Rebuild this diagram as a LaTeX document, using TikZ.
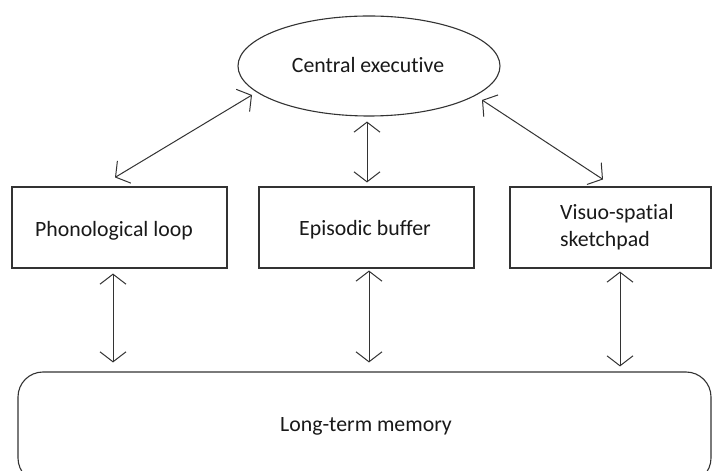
\documentclass[tikz,border=0pt]{standalone}
\usepackage{fontspec}
\setmainfont{Carlito}[Ligatures=NoCommon]
\usetikzlibrary{arrows.meta,shapes.geometric,calc}
\begin{document}
\begin{tikzpicture}[x=1pt,y=1pt,
  outline/.style={draw=black!80, line width=1.1pt},
  box/.style={outline, rectangle, minimum height=81pt, inner sep=0pt},
  lbl/.style={font=\fontsize{21.8}{27}\selectfont, text=black!90, inner sep=0pt},
  barb/.tip={Straight Barb[length=10pt,width=26pt]},
  link/.style={draw=black!80, line width=1pt, barb-barb},
]
\useasboundingbox (0,0) rectangle (712,471);
\fill[white] (0,0) rectangle (712,471);
\clip (0,0) rectangle (712,471);

% components of working memory
\node[outline, ellipse, minimum width=262pt, minimum height=100pt, inner sep=0pt] (ce) at (369,405) {};
\node[box, minimum width=215pt] (pl) at (119.5,243.5) {};
\node[box, minimum width=215pt] (eb) at (366.5,243.5) {};
\node[box, minimum width=201pt] (vs) at (610.5,243.5) {};
\node[outline, rectangle, rounded corners=25pt, minimum width=693pt, minimum height=111pt, inner sep=0pt] (ltm) at (364.5,43.5) {};

% labels
\node[lbl, anchor=base] (cet) at ($(ce.center)+(-1,-7)$) {Central executive};
\node[lbl, anchor=base] (plt) at ($(pl.center)+(-5.5,-9.5)$) {Phonological loop};
\node[lbl, anchor=base] (ebt) at ($(eb.center)+(-1.5,-8.5)$) {Episodic buffer};
\node[lbl, anchor=base west, align=left] (vst) at ($(vs.center)+(-50.5,-19.5)$) {Visuo-spatial\\sketchpad};
\node[lbl, anchor=base] (ltmt) at ($(ltm.north)+(1.5,-60)$) {Long-term memory};

% links to the central executive
\draw[link] ($(pl.north)+(-4.5,9)$) -- ($(ce.center)+(-117,-29)$);
\draw[link] ($(eb.north)+(0.5,4)$) -- ($(ce.south)+(-2,-5)$);
\draw[link] ($(vs.north)+(-7.5,7)$) -- ($(ce.center)+(113,-34)$);

% links to long-term memory
\draw[link] ($(pl.south)+(-6.5,-5)$) -- ($(pl.south |- ltm.north)+(-6.5,9)$);
\draw[link] ($(eb.south)+(2.5,-2)$) -- ($(eb.south |- ltm.north)+(2.5,9)$);
\draw[link] ($(vs.south)+(9.5,-3)$) -- ($(vs.south |- ltm.north)+(9.5,5)$);
\end{tikzpicture}
\end{document}
